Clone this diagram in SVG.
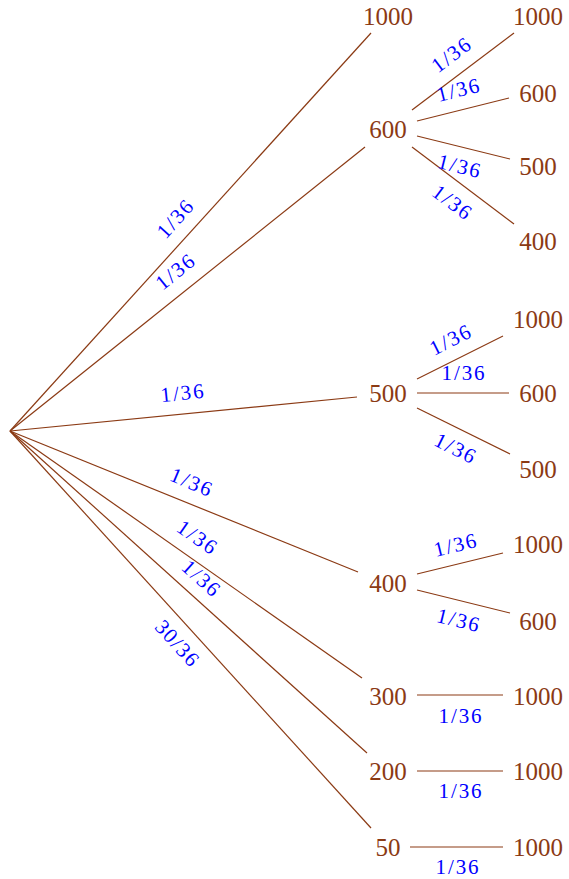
<svg xmlns="http://www.w3.org/2000/svg" width="569" height="879" viewBox="0 0 569 879">
<style>
.e{stroke:#8B3A14;stroke-width:1.2;fill:none}
.n{font-family:"Liberation Serif",serif;font-size:25px;fill:#8B3A14;text-anchor:middle}
.p{font-family:"Liberation Serif",serif;font-size:21px;fill:#0000FF;text-anchor:middle}
</style>
<rect width="569" height="879" fill="#fff"/>
<g id="connectors">
<line class="e" x1="10" y1="431" x2="371" y2="33"/>
<line class="e" x1="10" y1="431" x2="365" y2="147"/>
<line class="e" x1="10" y1="431" x2="357" y2="397"/>
<line class="e" x1="10" y1="431" x2="358" y2="572"/>
<line class="e" x1="10" y1="431" x2="362" y2="678"/>
<line class="e" x1="10" y1="431" x2="367" y2="753"/>
<line class="e" x1="10" y1="431" x2="371" y2="828"/>
<line class="e" x1="412" y1="110" x2="514" y2="33"/>
<line class="e" x1="417" y1="121" x2="509" y2="98"/>
<line class="e" x1="417" y1="136" x2="510" y2="159"/>
<line class="e" x1="412" y1="147" x2="514" y2="224"/>
<line class="e" x1="417" y1="379" x2="503" y2="336"/>
<line class="e" x1="417" y1="393" x2="509" y2="393"/>
<line class="e" x1="417" y1="408" x2="510" y2="454"/>
<line class="e" x1="417" y1="574" x2="503" y2="553"/>
<line class="e" x1="417" y1="590" x2="510" y2="613"/>
<line class="e" x1="417" y1="695" x2="503" y2="695"/>
<line class="e" x1="417" y1="771" x2="503" y2="771"/>
<line class="e" x1="410" y1="847" x2="503" y2="847"/>
<g transform="translate(175,219) rotate(-47.8)"><text class="p" y="7" textLength="43" lengthAdjust="spacing">1/36</text></g>
<g transform="translate(175,272) rotate(-38.7)"><text class="p" y="7" textLength="43" lengthAdjust="spacing">1/36</text></g>
<g transform="translate(182,393) rotate(-5.8)"><text class="p" y="7" textLength="43" lengthAdjust="spacing">1/36</text></g>
<g transform="translate(191,482) rotate(22.8)"><text class="p" y="7" textLength="43" lengthAdjust="spacing">1/36</text></g>
<g transform="translate(197,537) rotate(35)"><text class="p" y="7" textLength="43" lengthAdjust="spacing">1/36</text></g>
<g transform="translate(201,578) rotate(42)"><text class="p" y="7" textLength="43" lengthAdjust="spacing">1/36</text></g>
<g transform="translate(177,643) rotate(47.8)"><text class="p" y="7" textLength="54" lengthAdjust="spacing">30/36</text></g>
<g transform="translate(451,55) rotate(-37)"><text class="p" y="7" textLength="43" lengthAdjust="spacing">1/36</text></g>
<g transform="translate(458,90) rotate(-14)"><text class="p" y="7" textLength="43" lengthAdjust="spacing">1/36</text></g>
<g transform="translate(459,166) rotate(14)"><text class="p" y="7" textLength="43" lengthAdjust="spacing">1/36</text></g>
<g transform="translate(452,202) rotate(37)"><text class="p" y="7" textLength="43" lengthAdjust="spacing">1/36</text></g>
<g transform="translate(450,340) rotate(-26.6)"><text class="p" y="7" textLength="43" lengthAdjust="spacing">1/36</text></g>
<g transform="translate(463,373)"><text class="p" y="7" textLength="43" lengthAdjust="spacing">1/36</text></g>
<g transform="translate(455,448) rotate(26.6)"><text class="p" y="7" textLength="43" lengthAdjust="spacing">1/36</text></g>
<g transform="translate(455,545) rotate(-13.7)"><text class="p" y="7" textLength="43" lengthAdjust="spacing">1/36</text></g>
<g transform="translate(458,620) rotate(13.9)"><text class="p" y="7" textLength="43" lengthAdjust="spacing">1/36</text></g>
<g transform="translate(460,716)"><text class="p" y="7" textLength="43" lengthAdjust="spacing">1/36</text></g>
<g transform="translate(460,791)"><text class="p" y="7" textLength="43" lengthAdjust="spacing">1/36</text></g>
<g transform="translate(457,867)"><text class="p" y="7" textLength="43" lengthAdjust="spacing">1/36</text></g>
</g>
<g id="n_top1000"><text class="n" x="388" y="25">1000</text></g>
<g id="n_600"><text class="n" x="388" y="138">600</text></g>
<g id="n_500"><text class="n" x="388" y="402">500</text></g>
<g id="n_400"><text class="n" x="388" y="592">400</text></g>
<g id="n_300"><text class="n" x="388" y="705">300</text></g>
<g id="n_200"><text class="n" x="388" y="780">200</text></g>
<g id="n_50"><text class="n" x="388" y="856">50</text></g>
<g id="n_600_1000"><text class="n" x="538" y="25">1000</text></g>
<g id="n_600_600"><text class="n" x="538" y="102">600</text></g>
<g id="n_600_500"><text class="n" x="538" y="175">500</text></g>
<g id="n_600_400"><text class="n" x="538" y="250">400</text></g>
<g id="n_500_1000"><text class="n" x="538" y="328">1000</text></g>
<g id="n_500_600"><text class="n" x="538" y="402">600</text></g>
<g id="n_500_500"><text class="n" x="538" y="478">500</text></g>
<g id="n_400_1000"><text class="n" x="538" y="553">1000</text></g>
<g id="n_400_600"><text class="n" x="538" y="630">600</text></g>
<g id="n_300_1000"><text class="n" x="538" y="705">1000</text></g>
<g id="n_200_1000"><text class="n" x="538" y="780">1000</text></g>
<g id="n_50_1000"><text class="n" x="538" y="856">1000</text></g>
</svg>
